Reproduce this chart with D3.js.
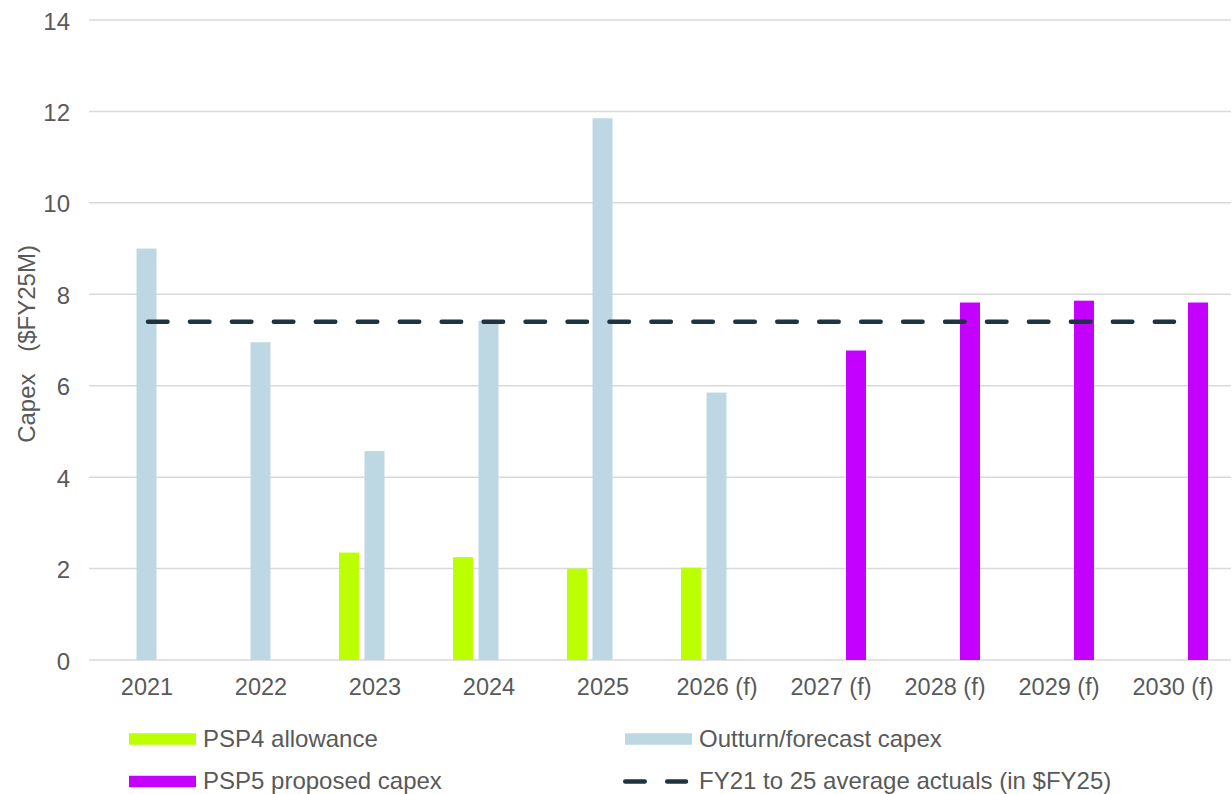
<!DOCTYPE html>
<html>
<head>
<meta charset="utf-8">
<script src="https://cdn.jsdelivr.net/npm/d3@7"></script>
<style>
  html, body { margin: 0; padding: 0; background: #ffffff; }
  svg { display: block; font-family: "Liberation Sans", Arial, sans-serif; }
</style>
</head>
<body>
<svg id="chart" width="1232" height="794"></svg>
<script>
// Financial years on the category axis
const years = ["2021", "2022", "2023", "2024", "2025", "2026 (f)", "2027 (f)", "2028 (f)", "2029 (f)", "2030 (f)"];

// Capex by series, $FY25M (null = no bar in that year)
const psp4Allowance = [null, null, 2.35, 2.25, 2.0, 2.02, null, null, null, null];
const outturnCapex  = [9.0, 6.95, 4.57, 7.42, 11.85, 5.85, null, null, null, null];
const psp5Proposed  = [null, null, null, null, null, null, 6.77, 7.82, 7.86, 7.82];

// FY21 to FY25 average of actuals, drawn across all years
const averageActuals = 7.4;

const yTicks = [0, 2, 4, 6, 8, 10, 12, 14];

const seriesNames = ["PSP4 allowance", "Outturn/forecast capex", "PSP5 proposed capex"];
const seriesValues = [psp4Allowance, outturnCapex, psp5Proposed];
const seriesColors = ["#bbff00", "#bdd8e3", "#c400ff"];
const avgLabel = "FY21 to 25 average actuals (in $FY25)";

const textColor = "#595959";
const gridColor = "#d9d9d9";
const avgColor = "#1e3441";

const svg = d3.select("#chart");

const x0 = d3.scaleBand().domain(years).range([91, 1231]).padding(0);
const x1 = d3.scaleBand().domain(d3.range(seriesNames.length)).range([20, 91]).paddingInner(0.2157).paddingOuter(0);
const y = d3.scaleLinear().domain([0, 14]).range([660, 20]);

// Horizontal gridlines (the 0 line doubles as the category axis)
svg.append("g")
  .selectAll("line")
  .data(yTicks)
  .join("line")
  .attr("x1", 89)
  .attr("x2", 1231)
  .attr("y1", d => y(d))
  .attr("y2", d => y(d))
  .attr("stroke", gridColor)
  .attr("stroke-width", 1.5);

// Y tick labels
svg.append("g")
  .selectAll("text")
  .data(yTicks)
  .join("text")
  .attr("x", 70)
  .attr("y", d => y(d) + 9.5)
  .attr("text-anchor", "end")
  .attr("font-size", 24)
  .attr("fill", textColor)
  .text(d => d);

// Y axis title
svg.append("text")
  .attr("transform", "translate(35,344) rotate(-90)")
  .attr("text-anchor", "middle")
  .attr("font-size", 24)
  .attr("word-spacing", 15)
  .attr("fill", textColor)
  .text("Capex ($FY25M)");

// Category labels
svg.append("g")
  .selectAll("text")
  .data(years)
  .join("text")
  .attr("x", d => x0(d) + x0.bandwidth() / 2 - 1)
  .attr("y", 694.5)
  .attr("text-anchor", "middle")
  .attr("font-size", 23.5)
  .attr("fill", textColor)
  .text(d => d);

// Clustered bars
const barData = [];
seriesValues.forEach((vals, si) => {
  vals.forEach((v, i) => {
    if (v != null) barData.push({ year: years[i], series: si, value: v });
  });
});

svg.append("g")
  .selectAll("rect")
  .data(barData)
  .join("rect")
  .attr("x", d => x0(d.year) + x1(d.series))
  .attr("width", x1.bandwidth())
  .attr("y", d => y(d.value))
  .attr("height", d => y(0) - y(d.value))
  .attr("fill", d => seriesColors[d.series]);

// Average actuals dashed line
const xMid = d => x0(d) + x0.bandwidth() / 2;
svg.append("line")
  .attr("x1", xMid(years[0]))
  .attr("x2", xMid(years[years.length - 1]))
  .attr("y1", y(averageActuals))
  .attr("y2", y(averageActuals))
  .attr("stroke", avgColor)
  .attr("stroke-width", 4.5)
  .attr("stroke-linecap", "round")
  .attr("stroke-dasharray", "19.5,22.45");

// Legend
const legendItems = [
  { label: seriesNames[0], color: seriesColors[0], x: 129, row: 0, type: "bar" },
  { label: seriesNames[1], color: seriesColors[1], x: 625, row: 0, type: "bar" },
  { label: seriesNames[2], color: seriesColors[2], x: 129, row: 1, type: "bar" },
  { label: avgLabel, color: avgColor, x: 625, row: 1, type: "dash" }
];
const rowY = [739, 781.5];

const lg = svg.append("g")
  .selectAll("g")
  .data(legendItems)
  .join("g");

lg.filter(d => d.type === "bar")
  .append("rect")
  .attr("x", d => d.x)
  .attr("y", d => rowY[d.row] - 5.75)
  .attr("width", 67)
  .attr("height", 11.5)
  .attr("fill", d => d.color);

lg.filter(d => d.type === "dash")
  .append("line")
  .attr("x1", d => d.x + 0.25)
  .attr("x2", d => d.x + 61)
  .attr("y1", d => rowY[d.row])
  .attr("y2", d => rowY[d.row])
  .attr("stroke", d => d.color)
  .attr("stroke-width", 4.5)
  .attr("stroke-linecap", "round")
  .attr("stroke-dasharray", "19.5,22.45");

lg.append("text")
  .attr("x", d => d.x + 74)
  .attr("y", d => rowY[d.row] + 7.5)
  .attr("font-size", 24)
  .attr("fill", textColor)
  .text(d => d.label);
</script>
</body>
</html>
